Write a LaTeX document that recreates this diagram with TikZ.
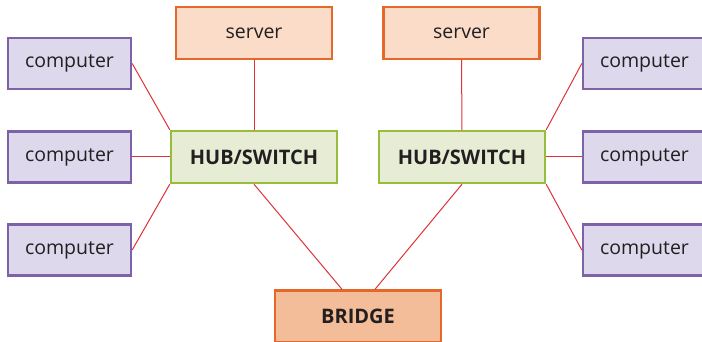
\documentclass[tikz,border=0pt]{standalone}
\usepackage{fontspec}
\setmainfont{Open Sans}
\usepackage{xcolor}
\definecolor{pcLine}{RGB}{125,98,168}
\definecolor{pcFill}{RGB}{221,216,235}
\definecolor{srvLine}{RGB}{230,103,42}
\definecolor{srvFill}{RGB}{250,220,200}
\definecolor{hubLine}{RGB}{150,190,60}
\definecolor{hubFill}{RGB}{230,237,212}
\definecolor{brgFill}{RGB}{242,189,152}
\definecolor{wire}{RGB}{222,50,55}
\definecolor{txt}{RGB}{35,31,32}

\begin{document}
\begin{tikzpicture}[x=1pt, y=-1pt,
  box/.style={draw, line width=2.4pt, inner sep=0pt, text=txt, font=\fontsize{19.5}{22}\selectfont},
  pc/.style={box, draw=pcLine, fill=pcFill, minimum width=123pt, minimum height=51pt},
  srv/.style={box, draw=srvLine, fill=srvFill, minimum width=156pt, minimum height=52pt},
  hub/.style={box, draw=hubLine, fill=hubFill, minimum width=166pt, minimum height=52pt, font=\fontsize{20}{24}\selectfont\bfseries},
  brg/.style={box, draw=srvLine, fill=brgFill, minimum width=166pt, minimum height=52pt, font=\fontsize{20}{24}\selectfont\bfseries},
  wire/.style={draw=wire, line width=1pt}]
  % Cadre
  \useasboundingbox (0,0) rectangle (702,342);
  % Reseau de gauche
  \node[pc] (pcA) at (69.5,63.5) {computer};
  \node[pc] (pcB) at (69.5,157) {computer};
  \node[pc] (pcC) at (69.5,250) {computer};
  \node[srv] (srvL) at (254,33) {server};
  \node[hub] (hubL) at (254,157) {HUB/SWITCH};
  % Reseau de droite
  \node[pc] (pcD) at (644.5,63.5) {computer};
  \node[pc] (pcE) at (644.5,157) {computer};
  \node[pc] (pcF) at (644.5,250) {computer};
  \node[srv] (srvR) at (461.5,33) {server};
  \node[hub] (hubR) at (462,157) {HUB/SWITCH};
  % Pont
  \node[brg] (brg) at (358,316.5) {BRIDGE};
  % Liaisons
  \draw[wire] (pcA.east) -- (hubL.north west);
  \draw[wire] (pcB.east) -- (hubL.west);
  \draw[wire] (pcC.east) -- (hubL.south west);
  \draw[wire] (srvL) -- (hubL);
  \draw[wire] (pcD.west) -- (hubR.north east);
  \draw[wire] (pcE.west) -- (hubR.east);
  \draw[wire] (pcF.west) -- (hubR.south east);
  \draw[wire] (srvR) -- (hubR);
  \draw[wire] (hubL.south) -- ([xshift=-16pt]brg.north);
  \draw[wire] (hubR.south) -- ([xshift=17pt]brg.north);
\end{tikzpicture}
\end{document}
